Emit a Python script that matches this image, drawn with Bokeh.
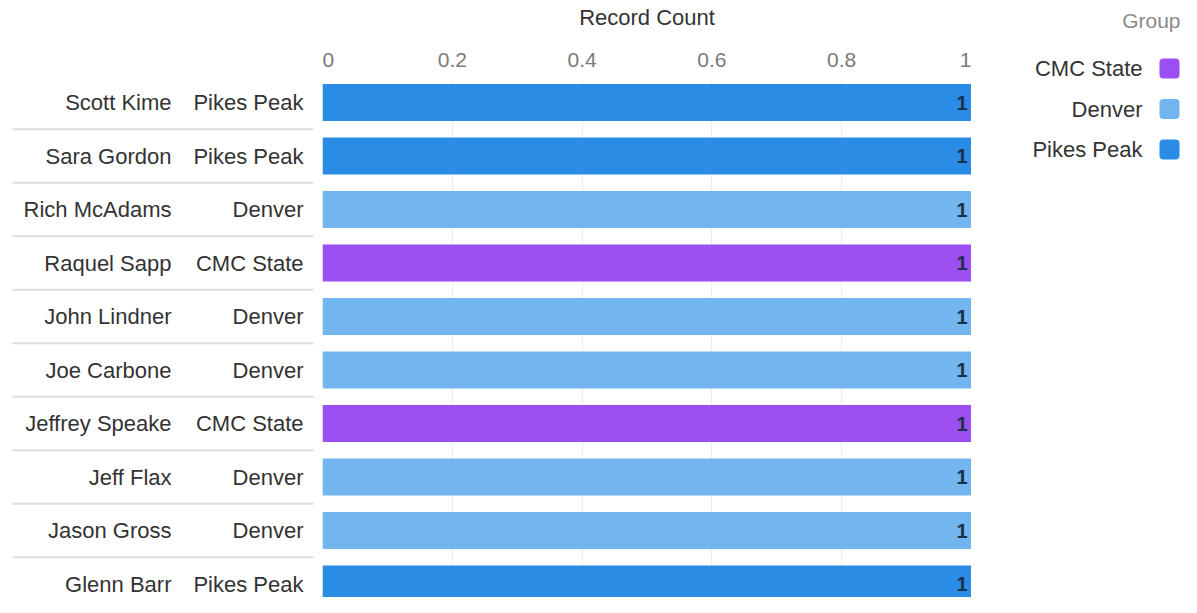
from bokeh.plotting import figure
from bokeh.models import ColumnDataSource, Range1d, FixedTicker
from bokeh.layouts import row, column
from bokeh.transform import factor_cmap
from bokeh.core.properties import value
from bokeh.embed import file_html
from bokeh.resources import INLINE

# ---- data ----
names = ["Scott Kime", "Sara Gordon", "Rich McAdams", "Raquel Sapp", "John Lindner",
         "Joe Carbone", "Jeffrey Speake", "Jeff Flax", "Jason Gross", "Glenn Barr"]
groups = ["Pikes Peak", "Pikes Peak", "Denver", "CMC State", "Denver",
          "Denver", "CMC State", "Denver", "Denver", "Pikes Peak"]
counts = [1, 1, 1, 1, 1, 1, 1, 1, 1, 1]
legend_groups = ["CMC State", "Denver", "Pikes Peak"]
group_colors = ["#9b4ff0", "#72b5ef", "#2b8ce6"]
x_ticks = [0, 0.2, 0.4, 0.6, 0.8, 1]
x_title = "Record Count"
legend_title = "Group"

FONT = value("Liberation Sans")
TOP = 80
H = 597
ROW_PX = 53.5
FIRST_PX = 102.0
rows = list(range(len(names)))
last_px = FIRST_PX + ROW_PX * (len(names) - 1)
y_range = Range1d(start=(len(names) - 1) + (H - last_px) / ROW_PX,
                  end=-(FIRST_PX - TOP) / ROW_PX)

src = ColumnDataSource(dict(row=rows, name=names, group=groups, count=counts,
                            label=[str(c) for c in counts]))

# ---- left label panel ----
lp = figure(width=322, height=H, x_range=Range1d(0, 322), y_range=y_range,
            output_backend="svg", toolbar_location=None,
            min_border_left=0, min_border_right=0, min_border_top=TOP, min_border_bottom=0)
lp.axis.visible = False
lp.grid.visible = False
lp.outline_line_color = None
lp.text(x=171, y="row", text="name", source=src, text_align="right", text_baseline="middle",
        text_font=FONT, text_font_size="22px", text_color="#333333")
lp.text(x=303, y="row", text="group", source=src, text_align="right", text_baseline="middle",
        text_font=FONT, text_font_size="22px", text_color="#333333")
sep_src = ColumnDataSource(dict(y=[r + 0.5 for r in rows[:-1]]))
lp.segment(x0=12, x1=313, y0="y", y1="y", source=sep_src, line_color="#dcdcdc", line_width=2)

# ---- bar panel ----
p = figure(width=649, height=H, x_range=Range1d(0, 1), y_range=y_range,
           x_axis_location="above", output_backend="svg", toolbar_location=None,
           min_border_left=0, min_border_right=0, min_border_top=TOP, min_border_bottom=0)
p.yaxis.visible = False
p.ygrid.visible = False
p.outline_line_color = None
p.xgrid.grid_line_color = "#ececec"
p.xgrid.grid_line_width = 1
p.xaxis.ticker = FixedTicker(ticks=x_ticks)
p.xaxis.axis_line_color = None
p.xaxis.major_tick_line_color = None
p.xaxis.minor_tick_line_color = None
p.xaxis.major_label_text_font = "Liberation Sans"
p.xaxis.major_label_text_font_size = "21px"
p.xaxis.major_label_text_color = "#7a7a7a"
p.xaxis.major_label_standoff = 8
p.xaxis.axis_label = x_title
p.xaxis.axis_label_text_font = "Liberation Sans"
p.xaxis.axis_label_text_font_size = "22px"
p.xaxis.axis_label_text_font_style = "normal"
p.xaxis.axis_label_text_color = "#333333"
p.xaxis.axis_label_standoff = 20
p.hbar(y="row", left=0, right="count", height=37 / ROW_PX, source=src,
       fill_color=factor_cmap("group", palette=group_colors, factors=legend_groups),
       line_color=None)
p.text(x="count", y="row", text="label", source=src, x_offset=-4, text_align="right",
       text_baseline="middle", text_font=FONT, text_font_size="20px", text_color="#1a2f4a",
       text_font_style="bold")

# ---- legend panel ----
LW = 210
lg = figure(width=LW, height=H, x_range=Range1d(0, LW), y_range=Range1d(H, 0),
            output_backend="svg", toolbar_location=None,
            min_border_left=0, min_border_right=0, min_border_top=0, min_border_bottom=0)
lg.axis.visible = False
lg.grid.visible = False
lg.outline_line_color = None
ly = [68 + 40.5 * i for i in range(len(legend_groups))]
lsrc = ColumnDataSource(dict(y=ly, g=legend_groups, c=group_colors,
                             top=[v - 10 for v in ly], bottom=[v + 10 for v in ly]))
lg.text(x=209, y=[20], text=[legend_title], text_align="right", text_baseline="middle",
        text_font=FONT, text_font_size="21px", text_color="#8a8a8a")
lg.text(x=171, y="y", text="g", source=lsrc, text_align="right", text_baseline="middle",
        text_font=FONT, text_font_size="22px", text_color="#333333")
lg.quad(left=188, right=208, top="top", bottom="bottom", source=lsrc,
        fill_color="c", line_color=None, border_radius=4)

layout = row(row(lp, p), column(lg))
open("out.html", "w").write(file_html(layout, INLINE))
